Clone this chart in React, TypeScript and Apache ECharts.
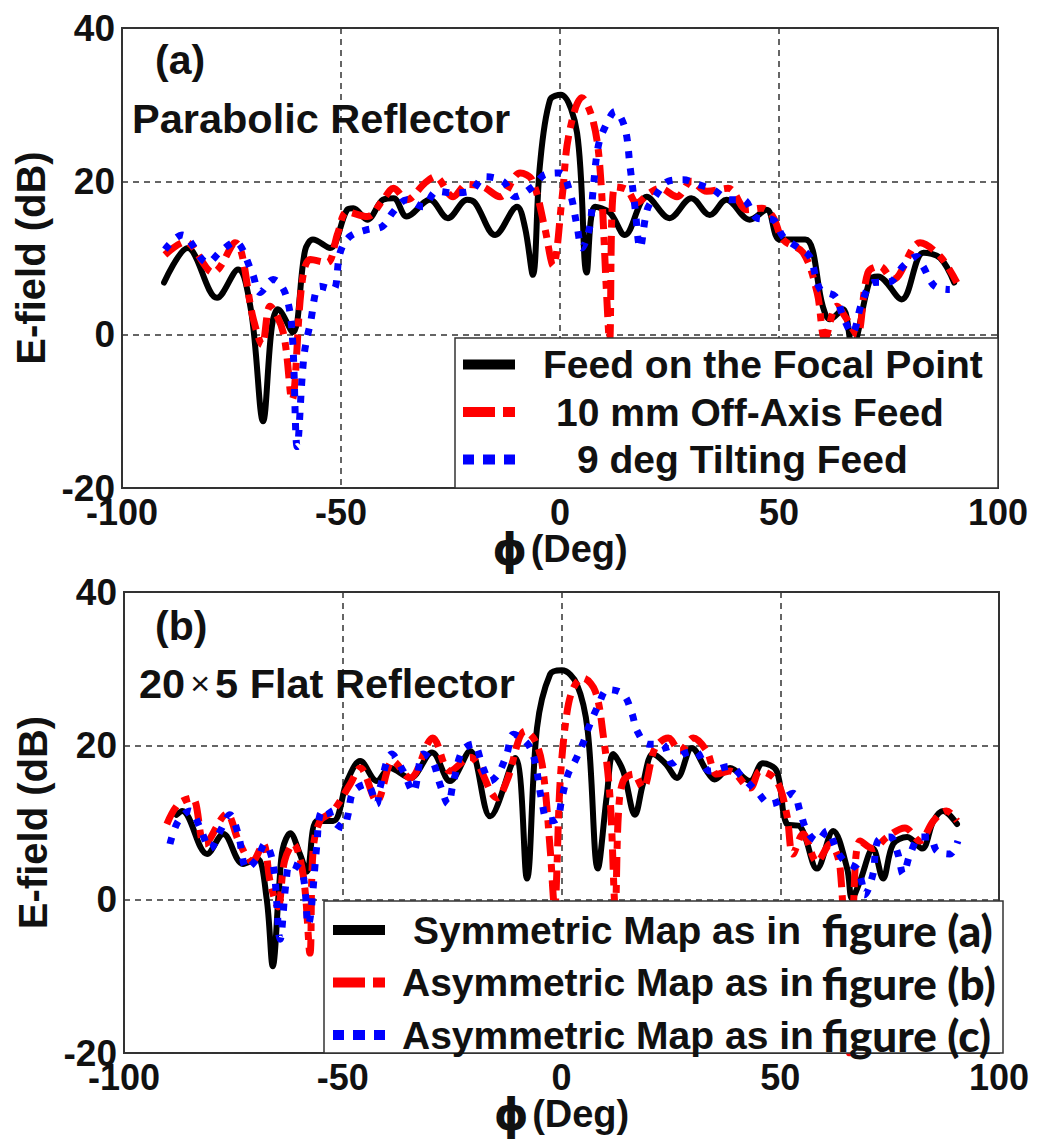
import React, { useEffect, useRef } from "react";
import * as echarts from "echarts";

// ---------- axis ticks ----------
const X_MIN = -100;
const X_MAX = 100;
const X_STEP = 50;
const Y_MIN = -20;
const Y_MAX = 40;
const Y_STEP = 20;

// ---------- legend names ----------
const TOP_NAMES = ["Feed on the Focal Point", "10 mm Off-Axis Feed", "9 deg Tilting Feed"];
const BOT_NAMES = [
  "Symmetric Map as in figure (a)",
  "Asymmetric Map as in figure (b)",
  "Asymmetric Map as in figure (c)",
];

// ---------- (a) Parabolic reflector : [phi (deg), E-field (dB)] ----------
const A_FOCAL: number[][] = [
  [-90.4, 6.8], [-85, 11.3], [-78.3, 4.8], [-73.5, 8.5], [-70.5, 3], [-67.8, -11.3], [-65.8, 1],
  [-64.4, 3.3], [-61, 0.3], [-58.2, 11], [-56.4, 12.4], [-52.5, 11.3], [-48.6, 16.3], [-47.2, 16.5],
  [-44, 15], [-40.4, 17.6], [-38, 17.8], [-35, 15.4], [-29.7, 17.6], [-25.6, 15.2], [-21.2, 17.6],
  [-19.4, 17.2], [-14.8, 13], [-9.8, 16.7], [-8, 14], [-6.2, 7.8], [-4.6, 22], [-2.3, 30.6],
  [0.2, 31.3], [3.9, 26.3], [6.1, 8.1], [8, 16.7], [11.4, 15.9], [14.8, 13], [19.8, 18], [25, 15.2],
  [30, 17.8], [34.2, 15.6], [38, 17.6], [43.3, 15], [47.2, 16.3], [50.2, 12.4], [56, 12.4], [60, 3.7],
  [61.6, 2], [64.6, 3.3], [66.7, -1.5], [70.8, 7.2], [72.6, 7.6], [78, 4.6], [83, 10.7], [86.8, 10],
  [90, 6.8],
];
const A_OFFAXIS: number[][] = [
  [-90.2, 10.4], [-85.6, 12.1], [-79.2, 8.1], [-74.2, 12], [-70, 2], [-68, -1.3], [-66.2, 3.7],
  [-63.2, 0.3], [-61.2, -8.5], [-58.9, 6.8], [-57, 9.8], [-53.2, 9.4], [-50.7, 13.3], [-48.6, 16],
  [-44, 15.4], [-40.4, 17.6], [-38, 19.1], [-35, 17.6], [-30.8, 19.8], [-28.5, 20.6], [-24.4, 18],
  [-21.2, 19.6], [-17.6, 19.3], [-13.7, 18], [-9.1, 21.1], [-6.4, 20.2], [-3.5, 14], [-1.6, 9],
  [0.5, 18], [2, 26], [5, 30.9], [7.5, 28], [9.1, 21.9], [10.7, 4.6], [11.3, -1], [12.5, 19.3],
  [15.3, 18.9], [17.5, 17.2], [20.5, 18.5], [22.8, 19.1], [26.7, 18], [30, 20], [33.5, 18.7],
  [38.4, 19.1], [42.7, 16.3], [46.1, 16.5], [48.6, 15.4], [50.9, 12.4], [55.5, 10.7], [58.7, 5.5],
  [60.5, -0.5], [63.2, 3.7], [65.5, 2], [67.8, 0], [70.3, 8.1], [73, 8.9], [76, 7.2], [82.2, 12],
  [86.8, 10.2], [90.6, 6.8],
];
const A_TILT: number[][] = [
  [-90.2, 11.1], [-86.3, 13], [-80.4, 9.4], [-77.6, 10.8], [-74.2, 12.1], [-70.3, 8.1], [-68.5, 5.5],
  [-65.5, 7.2], [-62.8, 5.5], [-61.2, 0.6], [-60, -14.6], [-58.5, -3], [-57, 1.5], [-54.8, 6.3],
  [-51.8, 5.9], [-50.2, 10.7], [-48, 12.8], [-44, 13.7], [-40.6, 14.1], [-38.1, 16], [-35, 17.6],
  [-31.3, 16.7], [-28.1, 18.7], [-24.4, 18.5], [-20.5, 18.7], [-17.1, 20.6], [-13, 20], [-10.3, 18],
  [-6.2, 19.3], [-3.4, 20.9], [0, 21.1], [2.3, 18.5], [3.9, 14.1], [5, 11.3], [6.8, 14.1], [7.5, 18.5],
  [8.7, 24.5], [10.3, 27.1], [12.6, 29.1], [14.8, 27], [16, 21.9], [17.1, 16.7], [18.3, 11.3],
  [19.9, 16.3], [21.7, 18], [24.7, 20], [28.1, 20.2], [31.5, 19.6], [35, 18.9], [38.8, 17.6],
  [41.8, 17.6], [45, 15.2], [48.6, 15], [50.9, 12.8], [54, 11.5], [57, 10.2], [59.4, 5.9], [62.8, 5],
  [64.6, 2.4], [66.7, 0.2], [68.9, 4.1], [71.5, 6.8], [75.3, 6.9], [78.3, 8.9], [81.5, 10.2],
  [82.9, 8.9], [85.6, 6.3], [89, 5.9],
];

// ---------- (b) 20x5 flat reflector ----------
const B_SYM: number[][] = [
  [-88, 11], [-86.7, 11.5], [-81, 5.9], [-77.3, 8.5], [-72.8, 4.6], [-69.6, 5.3], [-67.4, 0.1],
  [-66, -8.7], [-64.5, 2], [-63.7, 6.6], [-62, 8.6], [-59.8, 5.9], [-58.2, 3.6], [-55.9, 10.2],
  [-52.2, 10.2], [-49, 15.4], [-46, 18], [-42.2, 15.4], [-39.2, 17.1], [-34.6, 15.8], [-29.6, 19.1],
  [-25.5, 15.4], [-20.9, 19.3], [-16.3, 10.8], [-10.6, 18.4], [-7.9, 2.7], [-5.6, 22.3], [-2.6, 29.3],
  [0.1, 29.8], [3.5, 28], [6, 21.9], [8.3, 4], [10.4, 13.7], [11.8, 18.9], [14.1, 16.7], [16.8, 11],
  [18.6, 15], [20.9, 18.9], [23.7, 17.7], [26.4, 15.8], [29.8, 19.7], [33.2, 16.7], [35, 15.6],
  [38.5, 17.1], [43.1, 15.4], [46, 17.7], [49.2, 16.7], [51.5, 9.8], [54.5, 9.5], [58.4, 4],
  [62.1, 8.9], [65.3, 4], [66.4, 0.1], [68.2, 2.3], [71.2, 6.6], [73.5, 2.7], [75.8, 7.2], [79, 8.1],
  [82.4, 6.6], [85, 10.2], [87.2, 11.5], [90.4, 9.8],
];
const B_ASYM_B: number[][] = [
  [-90.2, 9.8], [-87.6, 12.4], [-84.4, 13.2], [-81.5, 7.2], [-76.5, 11.1], [-73.8, 7.6], [-70.7, 4.9],
  [-68.2, 7.2], [-66.6, 2.3], [-64.8, -1], [-63.3, 5], [-61.3, 7.2], [-59, 3], [-57.5, -7],
  [-56.8, 6.2], [-55.2, 10.2], [-52.2, 11.5], [-48.3, 15], [-46, 17.1], [-42.2, 12.8], [-38.5, 18],
  [-34.6, 15.8], [-29.4, 21], [-25.5, 16.7], [-20.9, 18.5], [-14.7, 13.2], [-12.5, 15.4], [-8.3, 21.9],
  [-6, 20.6], [-4.3, 17.1], [-2.6, 6.6], [-1.6, -1], [-0.3, 15.4], [1.2, 24.1], [2.7, 27.5],
  [4.9, 28.8], [7.7, 27.1], [9.5, 21.5], [11.1, 13.2], [12.3, -1], [13, 11], [14.1, 15.4], [16.4, 16.3],
  [18.6, 14.5], [21.4, 19.7], [24.4, 21], [27.1, 19.3], [30.1, 21], [33.2, 19.3], [35.5, 16.3],
  [38.5, 16.7], [43.1, 14.5], [45.4, 16.7], [49.2, 15.4], [51.5, 11], [52.9, 5.9], [55.2, 8.5],
  [58.4, 4.9], [61.4, 7.2], [63.7, 4], [65.8, -20], [66.8, 0], [68.3, 7.6], [71.2, 6.6], [74.4, 8.1],
  [78.5, 9.3], [81.9, 7.6], [85, 10.2], [88, 11.5], [90.4, 10.2],
];
const B_ASYM_C: number[][] = [
  [-89.5, 7.2], [-87.6, 10.2], [-84.9, 11.5], [-82.6, 9.3], [-80.3, 6.6], [-78, 8.9], [-75.8, 11],
  [-73.9, 8.5], [-71.9, 4], [-69.6, 5.3], [-67.8, 7.2], [-65.9, 4.6], [-64.3, -5.2], [-63, 2],
  [-62, 4.6], [-59.3, 3.6], [-57.9, -3.3], [-55.9, 7.2], [-55.2, 11], [-53.6, 11.8], [-52.2, 10.2],
  [-49.9, 9.3], [-48.8, 11], [-47.6, 14], [-44.5, 15], [-42.2, 12.4], [-41.5, 14.5], [-38.8, 18.9],
  [-36.2, 16.7], [-33.9, 14], [-31.6, 18.9], [-29.5, 18], [-27.8, 15], [-25.9, 12.4], [-24.8, 15],
  [-22.7, 19.3], [-20.2, 20.2], [-17.9, 17.1], [-16.3, 15.4], [-14.5, 16.3], [-12.5, 18.9], [-11, 21.5],
  [-7.7, 20.2], [-6.1, 18], [-4.5, 12.8], [-3.1, 10.2], [-1, 10.5], [0.1, 13.2], [1.5, 16.3], [3.1, 18],
  [4.9, 20.3], [6.5, 22.8], [8.3, 25.1], [10.6, 27.3], [14.1, 26.7], [16.1, 24.2], [17.3, 21.9],
  [19.8, 20.2], [23, 20.2], [25.3, 17.7], [27.8, 18.9], [30.5, 19.3], [33.9, 16.7], [38.5, 17.3],
  [41.5, 15.8], [44.7, 14], [47.7, 12.4], [49.9, 12.8], [52.9, 13.8], [54.5, 11.5], [56.1, 8.9],
  [58.4, 7.6], [60.7, 8.9], [63, 6.3], [64.8, 4.9], [67.5, 4], [68.6, 2.3], [69.3, 0.6], [71.2, 3.3],
  [72.3, 7.6], [75.1, 8.1], [76.9, 5.9], [78.1, 3.3], [79.7, 5.9], [82, 8.1], [84.2, 8.1], [85.8, 6.3],
  [88.8, 5.9], [90.6, 7.6],
];

const FONT = '"Liberation Sans", Arial, Helvetica, sans-serif';
const FONT2 = 'Lato, "Open Sans", "Liberation Sans", sans-serif';
const INK = "#111";

const RED_ICON = "path://M0,0h32v10h-32z M40,0h12v10h-12z";
const BLUE_ICON = "path://M0,0h11v10h-11z M20,0h12v10h-12z M41,0h11v10h-11z";

function App() {
  const ref = useRef<HTMLDivElement>(null);

  useEffect(() => {
    document.body.style.margin = "0";
    const chart = echarts.init(ref.current!, undefined, { renderer: "svg" });

    const grids = [
      { left: 122, top: 28, width: 876, height: 460 },
      { left: 124, top: 592, width: 875, height: 461 },
    ];

    const xAxis = grids.map((_, i) => ({
      type: "value",
      gridIndex: i,
      min: X_MIN,
      max: X_MAX,
      interval: X_STEP,
      name: "{p|ϕ} {d|(Deg)}",
      nameLocation: "middle",
      nameGap: 43,
      nameMoveOverlap: false,
      nameTextStyle: {
        lineHeight: 36,
        rich: {
          p: { fontSize: 44, fontWeight: "bold", fontFamily: '"DejaVu Sans", ' + FONT, color: INK, lineHeight: 36 },
          d: { fontSize: 38, fontWeight: "bold", fontFamily: FONT, color: INK, lineHeight: 36 },
        },
      },
      axisLine: { show: false },
      axisTick: { show: false },
      axisLabel: { fontSize: 36, fontWeight: "bold", fontFamily: FONT, color: INK, margin: 9, lineHeight: 30 },
      splitLine: { show: true, lineStyle: { type: [6, 5], color: "#333", width: 1.5 } },
    }));

    const yAxis = grids.map((_, i) => ({
      type: "value",
      gridIndex: i,
      min: Y_MIN,
      max: Y_MAX,
      interval: Y_STEP,
      name: "E-field (dB)",
      nameLocation: "middle",
      nameGap: 64,
      nameTextStyle: { fontSize: 40, fontWeight: "bold", fontFamily: FONT, color: INK },
      axisLine: { show: false },
      axisTick: { show: false },
      axisLabel: { fontSize: 37, fontWeight: "bold", fontFamily: FONT, color: INK, margin: 7 },
      splitLine: { show: true, lineStyle: { type: [6, 5], color: "#333", width: 1.5 } },
    }));

    const solid = (name: string, data: number[][], gi: number) => ({
      type: "line",
      name,
      data,
      xAxisIndex: gi,
      yAxisIndex: gi,
      showSymbol: false,
      smooth: 0.35,
      color: "#000",
      lineStyle: { color: "#000", width: 6, cap: "round", join: "round" },
    });
    const dashdot = (name: string, data: number[][], gi: number) => ({
      type: "line",
      name,
      data,
      xAxisIndex: gi,
      yAxisIndex: gi,
      showSymbol: false,
      smooth: 0.35,
      color: "#ff0000",
      lineStyle: { color: "#ff0000", width: 7, type: [20, 8, 8, 8], cap: "butt", join: "round" },
    });
    const dotted = (name: string, data: number[][], gi: number) => ({
      type: "line",
      name,
      data,
      xAxisIndex: gi,
      yAxisIndex: gi,
      showSymbol: false,
      smooth: 0.35,
      color: "#0000ff",
      lineStyle: { color: "#0000ff", width: 7, type: [7, 10], cap: "butt", join: "round" },
    });

    const LEG_FS = 39;
    const topRich: any = {};
    const topPads = [23, 36, 57];
    topPads.forEach((p, i) => {
      topRich["t" + i] = {
        fontSize: LEG_FS, fontWeight: "bold", fontFamily: FONT, color: INK, lineHeight: 40,
        padding: [0, 0, 0, p],
      };
    });
    const botRich: any = {
      s0: { fontSize: LEG_FS, fontWeight: "bold", fontFamily: FONT, color: INK, lineHeight: 40, padding: [0, 0, 0, 23], width: 409 },
      s1: { fontSize: LEG_FS, fontWeight: "bold", fontFamily: FONT, color: INK, lineHeight: 40, padding: [0, 0, 0, 12], width: 420 },
      f: { fontSize: 44, fontWeight: 900, fontFamily: FONT2, color: INK, lineHeight: 40 },
    };

    const legendCommon = {
      orient: "vertical",
      itemWidth: 52,
      itemHeight: 10,
      itemGap: 8.5,
      padding: 0,
      selectedMode: false,
      z: 10,
      itemStyle: { borderWidth: 0 },
    };

    const option: any = {
      animation: false,
      backgroundColor: "#fff",
      grid: grids.map((g) => ({ ...g, show: true, borderColor: "#333", borderWidth: 2, backgroundColor: "transparent" })),
      xAxis,
      yAxis,
      legend: [
        {
          ...legendCommon,
          left: 463,
          top: 345,
          data: [
            { name: TOP_NAMES[0], icon: "rect" },
            { name: TOP_NAMES[1], icon: RED_ICON },
            { name: TOP_NAMES[2], icon: BLUE_ICON },
          ],
          formatter: (n: string) => `{t${TOP_NAMES.indexOf(n)}|${n}}`,
          textStyle: { rich: topRich },
        },
        {
          ...legendCommon,
          left: 333,
          top: 908,
          data: [
            { name: BOT_NAMES[0], icon: "rect" },
            { name: BOT_NAMES[1], icon: RED_ICON },
            { name: BOT_NAMES[2], icon: BLUE_ICON },
          ],
          formatter: (n: string) => {
            const k = n.indexOf(" figure");
            const head = n.slice(0, k);
            const tail = n.slice(k + 1);
            const tag = BOT_NAMES.indexOf(n) === 0 ? "s0" : "s1";
            return `{${tag}|${head}}{f|${tail}}`;
          },
          textStyle: { rich: botRich },
        },
      ],
      series: [
        solid(TOP_NAMES[0], A_FOCAL, 0),
        dashdot(TOP_NAMES[1], A_OFFAXIS, 0),
        dotted(TOP_NAMES[2], A_TILT, 0),
        solid(BOT_NAMES[0], B_SYM, 1),
        dashdot(BOT_NAMES[1], B_ASYM_B, 1),
        dotted(BOT_NAMES[2], B_ASYM_C, 1),
      ],
      graphic: [
        { type: "rect", z: 5, shape: { x: 455, y: 338, width: 543, height: 150 }, style: { fill: "#fff", stroke: "#333", lineWidth: 1.5 } },
        { type: "rect", z: 5, shape: { x: 324, y: 901, width: 679, height: 152 }, style: { fill: "#fff", stroke: "#333", lineWidth: 1.5 } },
        { type: "text", z: 6, x: 155, y: 60, style: { text: "(a)", fontSize: 41, fontWeight: "bold", fontFamily: FONT, fill: INK, verticalAlign: "middle" } },
        { type: "text", z: 6, x: 132, y: 118, style: { text: "Parabolic Reflector", fontSize: 41.5, fontWeight: "bold", fontFamily: FONT, fill: INK, verticalAlign: "middle" } },
        { type: "text", z: 6, x: 155, y: 626, style: { text: "(b)", fontSize: 41, fontWeight: "bold", fontFamily: FONT, fill: INK, verticalAlign: "middle" } },
        {
          type: "text", z: 6, x: 139, y: 683,
          style: {
            text: "{n|20}{m|×}{n|5 Flat Reflector}",
            verticalAlign: "middle",
            rich: {
              n: { fontSize: 41.5, fontWeight: "bold", fontFamily: FONT, fill: INK },
              m: { fontSize: 34, fontWeight: "normal", fontFamily: FONT, fill: INK, padding: [0, 5, 0, 5] },
            },
          },
        },
      ],
    };

    chart.setOption(option);
    return () => chart.dispose();
  }, []);

  return <div ref={ref} style={{ width: 1039, height: 1140 }} />;
}

export default App;
